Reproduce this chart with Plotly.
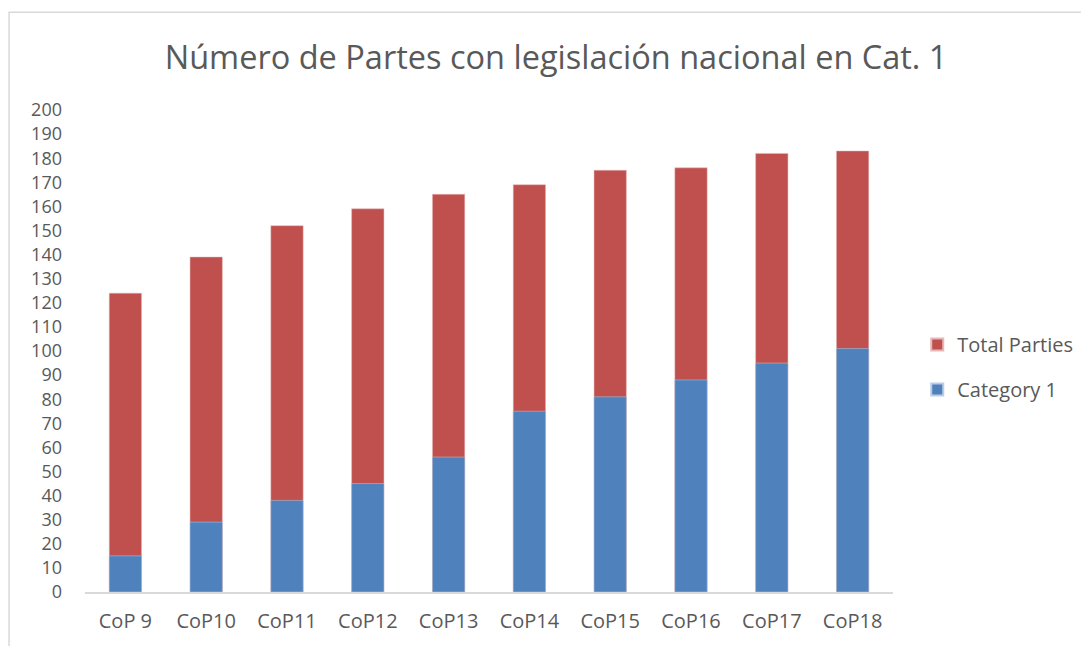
import plotly.graph_objects as go

categories = ["CoP 9", "CoP10", "CoP11", "CoP12", "CoP13", "CoP14", "CoP15", "CoP16", "CoP17", "CoP18"]
total_parties = [124, 139, 152, 159, 165, 169, 175, 176, 182, 183]
category_1 = [15, 29, 38, 45, 56, 75, 81, 88, 95, 101]
y_ticks = list(range(0, 201, 10))

FONT = "Open Sans"
TXT = "#595959"

fig = go.Figure()
fig.add_trace(go.Bar(x=categories, y=total_parties, name="Total Parties", legendgroup="a",
                     marker=dict(color="#C0504D", line=dict(width=0.5, color="#E6B9B8"))))
fig.add_trace(go.Bar(x=categories, y=category_1, name="Category 1", legendgroup="b",
                     marker=dict(color="#4F81BD", line=dict(width=0.5, color="#B9CDE5"))))

fig.update_layout(
    width=1081, height=638,
    barmode="overlay", bargap=0.6,
    paper_bgcolor="white", plot_bgcolor="white",
    margin=dict(l=77, r=196, t=102, b=54, autoexpand=False),
    font=dict(family=FONT, color=TXT, size=20),
    title=dict(text="Número de Partes con legislación nacional en Cat. 1",
               x=0.507, xanchor="center", xref="container",
               y=0.922, yanchor="middle", yref="container",
               font=dict(family=FONT, size=32.5, color=TXT)),
    legend=dict(x=1.03, y=0.467, xanchor="left", yanchor="middle",
                traceorder="grouped", font=dict(size=20, color=TXT),
                itemsizing="constant", tracegroupgap=16),
    xaxis=dict(showgrid=False, showline=True, linecolor="#D9D9D9", linewidth=1.5,
               ticks="", tickfont=dict(size=20, color=TXT), ticklabelstandoff=10),
    yaxis=dict(range=[0, 200], tickvals=y_ticks, showgrid=False, showline=False,
               zeroline=False, ticks="", tickfont=dict(size=18, color=TXT),
               ticklabelstandoff=22),
    shapes=[dict(type="rect", xref="paper", yref="paper",
                 x0=-0.094, x1=1.3, y0=-0.2, y1=1.203,
                 line=dict(color="#D9D9D9", width=1.5), fillcolor="rgba(0,0,0,0)",
                 layer="below")],
)

fig.write_html("out.html")
